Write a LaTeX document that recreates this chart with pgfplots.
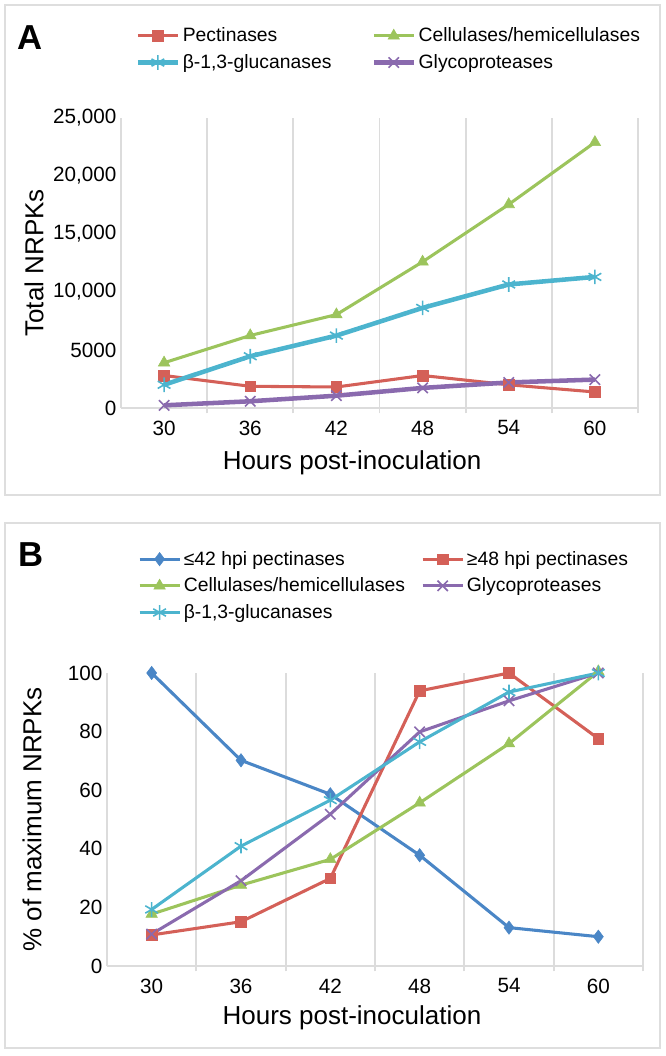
\documentclass[border=0pt]{standalone}
\usepackage{fontspec}
\setmainfont{Liberation Sans}
\usepackage{pgfplots}
\pgfplotsset{compat=1.18}

\definecolor{cRed}{RGB}{212,96,88}
\definecolor{cGreen}{RGB}{156,196,92}
\definecolor{cCyan}{RGB}{76,180,206}
\definecolor{cPurple}{RGB}{138,106,174}
\definecolor{cBlue}{RGB}{74,134,198}
\definecolor{gridgray}{RGB}{220,220,220}
\definecolor{framegray}{RGB}{222,222,222}

\pgfplotsset{
  hpi/.style={
    scale only axis,
    xmin=-0.5, xmax=5.5,
    xtick={0,...,5},
    xticklabels={30,36,42,48,54,60},
    minor xtick={0.5,1.5,2.5,3.5,4.5,5.5},
    xminorgrids=true,
    minor grid style={draw=gridgray, line width=1.3pt},
    axis x line=bottom, axis y line=left,
    axis line style={draw=gridgray, line width=1.3pt, -},
    major tick length=0pt,
    minor tick length=4pt,
    tick align=outside,
    minor tick style={draw=gridgray, line width=1.3pt},
    tick label style={font=\fontsize{15.5}{17}\selectfont},
    xticklabel style={yshift=-6pt},
    label style={font=\fontsize{19.5}{22}\selectfont},
    scaled y ticks=false,
    clip=false,
    legend columns=2,
    legend cell align=left,
    legend style={draw=none, fill=none, font=\fontsize{14.5}{16}\selectfont,
      anchor=north west, row sep=4pt},
    legend image code/.code={\draw[mark repeat=2,mark phase=2,#1]
      plot coordinates {(0pt,0pt) (15pt,0pt) (30pt,0pt)};},
  },
}

\begin{document}
\begin{tikzpicture}
% page size 666 x 1056 px at 0.75pt per px
\path (0,0) rectangle (499.5pt,792pt);
\draw[framegray, line width=1.5pt] (3.75pt,420.75pt) rectangle (495pt,788.25pt);
\draw[framegray, line width=1.5pt] (3.75pt,6pt) rectangle (495pt,399.75pt);
\node[font=\fontsize{26}{28}\selectfont\bfseries] at (22.5pt,764pt) {A};
\node[font=\fontsize{26}{28}\selectfont\bfseries] at (23pt,376pt) {B};

% ---------- panel A ----------
\begin{axis}[hpi,
  at={(90.75pt,486pt)}, anchor=south west,
  width=387.75pt, height=217.5pt,
  ymin=0, ymax=25000,
  ytick={0,5000,10000,15000,20000,25000},
  yticklabels={0,5000,{10,000},{15,000},{20,000},{25,000}},
  xlabel={Hours post-inoculation},
  ylabel={Total NRPKs},
  xlabel style={at={(axis description cs:0.447,-0.19)}, anchor=center},
  ylabel style={at={(axis description cs:-0.168,0.5)}, anchor=center},
  legend style={at={(axis description cs:0.02,1.33)},
    /tikz/every even column/.append style={column sep=28pt}},
]
\addplot[color=cRed, line width=2.3pt, mark=square*, mark size=4pt,
  mark options={line width=0.4pt, fill=cRed}]
  coordinates {(0,2800) (1,1870) (2,1810) (3,2800) (4,2000) (5,1380)};
\addlegendentry{Pectinases}
\addplot[color=cGreen, line width=2.3pt, mark=triangle*, mark size=5pt,
  mark options={line width=0.4pt, fill=cGreen}]
  coordinates {(0,3900) (1,6250) (2,8050) (3,12600) (4,17550) (5,22900)};
\addlegendentry{Cellulases/hemicellulases}
\addplot[color=cCyan, line width=3.4pt, mark=asterisk, mark size=5.5pt,
  mark options={line width=1.2pt}]
  coordinates {(0,2000) (1,4460) (2,6240) (3,8630) (4,10650) (5,11300)};
\addlegendentry{β-1,3-glucanases}
\addplot[color=cPurple, line width=3.4pt, mark=x, mark size=5.5pt,
  mark options={line width=1.2pt}]
  coordinates {(0,230) (1,580) (2,1060) (3,1730) (4,2200) (5,2450)};
\addlegendentry{Glycoproteases}
\end{axis}

% ---------- panel B ----------
\begin{axis}[hpi,
  at={(80.25pt,67.5pt)}, anchor=south west,
  width=402pt, height=219.75pt,
  ymin=0, ymax=100,
  ytick={0,20,40,60,80,100},
  yticklabels={0,20,40,60,80,100},
  xlabel={Hours post-inoculation},
  ylabel={\% of maximum NRPKs},
  xlabel style={at={(axis description cs:0.457,-0.177)}, anchor=center},
  ylabel style={at={(axis description cs:-0.14,0.5)}, anchor=center},
  legend style={at={(axis description cs:0.05,1.435)},
    /tikz/every even column/.append style={column sep=10pt}},
]
\addplot[color=cBlue, line width=2.3pt, mark=diamond*, mark size=5pt,
  mark options={line width=0.4pt, fill=cBlue}]
  coordinates {(0,100) (1,70.2) (2,58.6) (3,37.8) (4,13.1) (5,10.0)};
\addlegendentry{≤42 hpi pectinases}
\addplot[color=cRed, line width=2.3pt, mark=square*, mark size=4pt,
  mark options={line width=0.4pt, fill=cRed}]
  coordinates {(0,10.6) (1,15.1) (2,29.9) (3,93.9) (4,100) (5,77.6)};
\addlegendentry{≥48 hpi pectinases}
\addplot[color=cGreen, line width=2.3pt, mark=triangle*, mark size=5pt,
  mark options={line width=0.4pt, fill=cGreen}]
  coordinates {(0,17.7) (1,27.6) (2,36.4) (3,55.7) (4,75.9) (5,100.5)};
\addlegendentry{Cellulases/hemicellulases}
\addplot[color=cPurple, line width=2.3pt, mark=x, mark size=5.5pt,
  mark options={line width=1.2pt}]
  coordinates {(0,10.9) (1,29.1) (2,51.8) (3,79.9) (4,90.5) (5,100)};
\addlegendentry{Glycoproteases}
\addplot[color=cCyan, line width=2.3pt, mark=asterisk, mark size=5.5pt,
  mark options={line width=1.2pt}]
  coordinates {(0,19.3) (1,40.9) (2,56.6) (3,76.5) (4,93.5) (5,100)};
\addlegendentry{β-1,3-glucanases}
\end{axis}
\end{tikzpicture}
\end{document}
